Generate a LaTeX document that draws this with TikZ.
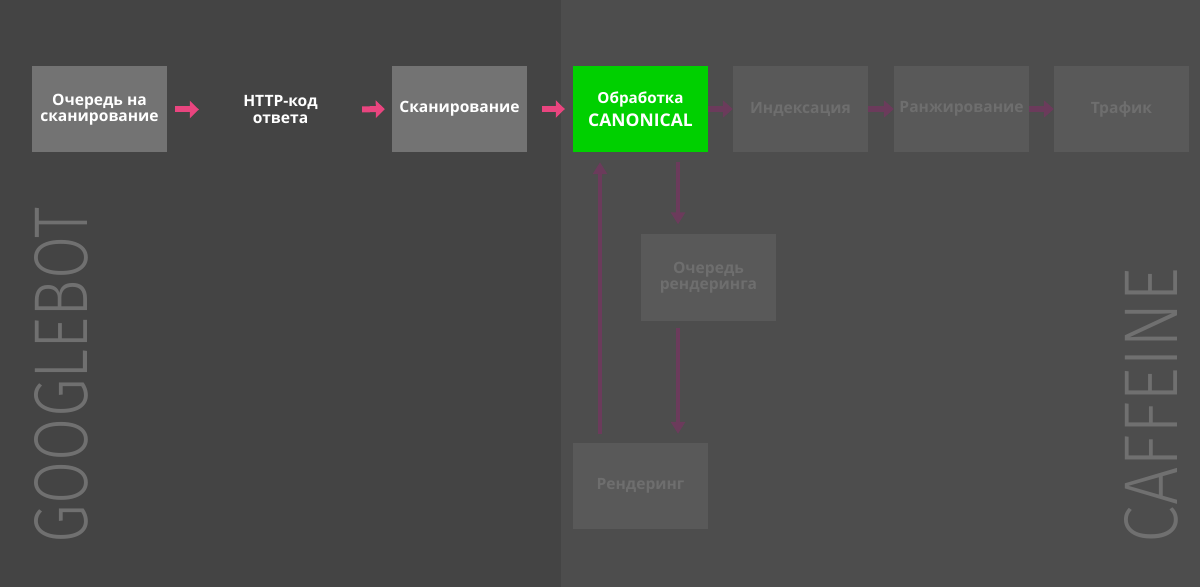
\documentclass[tikz,border=0pt]{standalone}
\usepackage{fontspec}
\setmainfont{Open Sans}
\IfFontExistsTF{Fira Sans Light}{\newfontfamily\thinfont{Fira Sans Light}}{\newfontfamily\thinfont{Liberation Sans}}
\usetikzlibrary{arrows.meta,positioning}

\definecolor{bgleft}{HTML}{444444}
\definecolor{bgright}{HTML}{4D4D4D}
\definecolor{boxgray}{HTML}{737373}
\definecolor{boxfade}{HTML}{595959}
\definecolor{txtfade}{HTML}{6E6E6E}
\definecolor{pinkarrow}{HTML}{E9457F}
\definecolor{fadearrow}{HTML}{6B3B5B}
\definecolor{canongreen}{HTML}{00D000}
\definecolor{bigtxt}{HTML}{707070}

\begin{document}
\begin{tikzpicture}[
  x=1bp, y=-1bp,
  stage/.style={minimum width=135bp, minimum height=86bp, inner sep=0pt, align=center,
    font=\fontsize{15.6bp}{16.5bp}\selectfont\bfseries},
  active/.style={stage, fill=boxgray, text=white},
  faded/.style={stage, fill=boxfade, text=txtfade},
  go/.style={pinkarrow, line width=6bp, -{Triangle[length=9bp,width=17bp]}},
  later/.style={fadearrow, line width=6bp, -{Triangle[length=10bp,width=17bp]}},
  laterv/.style={fadearrow, line width=4.5bp, -{Triangle[length=12bp,width=14bp]}},
  side/.style={text=bigtxt, inner sep=0pt, rotate=90}
]

% panels
\fill[bgleft] (0,0) rectangle (561,587);
\fill[bgright] (561,0) rectangle (1200,587);
\useasboundingbox (0,0) rectangle (1200,587);

% googlebot row
\node[active] (crawlq) at (99.5,109.5) {Очередь на\\сканирование};
\node[stage, text=white] (http) at (280.5,109.5) {HTTP-код\\ответа};
\node[active] (crawl) at (459.5,109) {Сканирование};
\node[stage, fill=canongreen, text=white, font=\fontsize{15.2bp}{23bp}\selectfont\bfseries] (canon) at (640.5,109)
  {Обработка\\{\fontsize{17.5bp}{23bp}\selectfont CANONICAL}};

% caffeine row
\node[faded] (index) at (800.5,109) {Индексация};
\node[faded] (rank) at (961.5,109) {Ранжирование};
\node[faded] (traffic) at (1121.5,109) {Трафик};

% rendering loop
\node[faded] (renderq) at (708.5,277.5) {Очередь\\рендеринга};
\node[faded] (render) at (640.5,486) {Рендеринг};

\draw[go, shorten <=8bp, shorten >=14bp] (crawlq.east) -- (http.west);
\draw[go, shorten <=14bp, shorten >=7bp] (http.east) -- (crawl.west);
\draw[go, shorten <=15bp, shorten >=8bp] (crawl.east) -- (canon.west);

\draw[later] (canon.east) -- (index.west);
\draw[later] (index.east) -- (rank.west);
\draw[later] (rank.east) -- (traffic.west);

\draw[laterv, shorten <=10bp, shorten >=10bp] ([xshift=37.5bp]canon.south) -- ([xshift=37.5bp]canon.south |- renderq.north);
\draw[laterv, shorten <=7bp, shorten >=9bp] ([xshift=-30.5bp]renderq.south) -- ([xshift=-30.5bp]renderq.south |- render.north);
\draw[laterv, shorten <=9bp, shorten >=10bp] ([xshift=-40.5bp]render.north) -- ([xshift=-40.5bp]canon.south);

% side labels
\node[side] (googlebot) at (61.5,375.5) {\resizebox{335bp}{53bp}{\thinfont GOOGLEBOT}};
\node[side] (caffeine) at (1151.5,405.5) {\resizebox{275bp}{53bp}{\thinfont CAFFEINE}};

\end{tikzpicture}
\end{document}
